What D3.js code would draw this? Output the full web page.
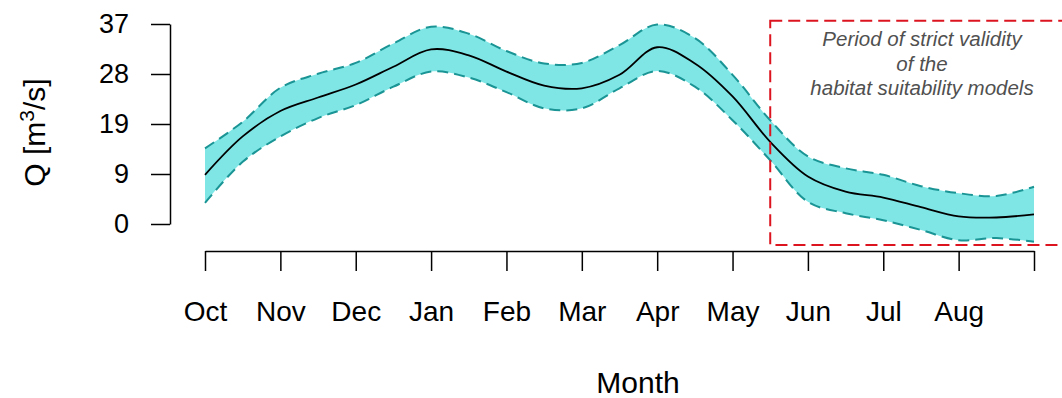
<!DOCTYPE html>
<html>
<head>
<meta charset="utf-8">
<script src="https://cdn.jsdelivr.net/npm/d3@7"></script>
<style>
  html, body { margin: 0; padding: 0; background: #fff; }
  svg { display: block; font-family: "Liberation Sans", Arial, sans-serif; }
</style>
</head>
<body>
<svg id="chart" width="1062" height="398"></svg>
<script>
// Time in months since 1 October, sampled every half month
const months = d3.range(0, 11.01, 0.5);

// Mean discharge and the upper / lower bounds of the band (m3/s)
const meanQ  = [9.1, 16.2, 20.9, 23.4, 25.8, 29.1, 32.3, 31.2, 28.2, 25.6, 25.1, 27.6,
                32.7, 29.7, 23.6, 15.2, 8.8, 6.0, 4.9, 3.1, 1.4, 1.2, 1.8];
const upperQ = [14.0, 18.9, 25.2, 27.8, 29.8, 33.4, 36.5, 35.2, 32.0, 29.7, 29.8, 33.1,
                36.9, 34.4, 27.6, 19.2, 12.5, 10.3, 9.1, 7.0, 5.7, 5.2, 6.9];
const lowerQ = [3.9, 11.5, 16.2, 19.6, 22.0, 25.4, 28.2, 27.1, 24.4, 21.4, 21.4, 25.1,
                28.3, 25.4, 19.2, 11.8, 4.1, 2.0, 0.7, -1.1, -3.0, -2.6, -3.3];

// Axis ticks
const xTickValues = d3.range(0, 12);
const xTickLabels = ["Oct", "Nov", "Dec", "Jan", "Feb", "Mar", "Apr", "May", "Jun", "Jul", "Aug", ""];
const yTickValues = [0, 9.25, 18.5, 27.75, 37];
const yTickLabels = ["0", "9", "19", "28", "37"];

// Window of strict validity (months, Q range)
const validityMonths = [7.5, 11.5];
const validityQ = [-3.9, 37.6];
const validityText = ["Period of strict validity", "of the", "habitat suitability models"];

const svg = d3.select("#chart");

const x = d3.scaleLinear().domain([0, 11]).range([205, 1034]);
const y = d3.scaleLinear().domain([0, 37]).range([224, 24]);

const rows = months.map((m, i) => ({ m, mean: meanQ[i], hi: upperQ[i], lo: lowerQ[i] }));
const curve = d3.curveCatmullRom.alpha(0.5);

// Confidence band
svg.append("path")
  .datum(rows)
  .attr("fill", "#7fe5e5")
  .attr("d", d3.area().curve(curve).x(d => x(d.m)).y0(d => y(d.lo)).y1(d => y(d.hi)));

// Dashed band edges
["hi", "lo"].forEach(k => {
  svg.append("path")
    .datum(rows)
    .attr("fill", "none")
    .attr("stroke", "#1a9494")
    .attr("stroke-width", 2)
    .attr("stroke-dasharray", "11,6")
    .attr("d", d3.line().curve(curve).x(d => x(d.m)).y(d => y(d[k])));
});

// Mean line
svg.append("path")
  .datum(rows)
  .attr("fill", "none")
  .attr("stroke", "#000")
  .attr("stroke-width", 1.8)
  .attr("d", d3.line().curve(curve).x(d => x(d.m)).y(d => y(d.mean)));

// Validity window
svg.append("rect")
  .attr("x", x(validityMonths[0]))
  .attr("y", y(validityQ[1]))
  .attr("width", x(validityMonths[1]) - x(validityMonths[0]))
  .attr("height", y(validityQ[0]) - y(validityQ[1]))
  .attr("fill", "none")
  .attr("stroke", "#dc1420")
  .attr("stroke-width", 2)
  .attr("stroke-dasharray", "12,6");

svg.append("g")
  .selectAll("text")
  .data(validityText)
  .join("text")
  .attr("x", 922)
  .attr("y", (d, i) => 46 + i * 24.5)
  .attr("text-anchor", "middle")
  .attr("font-style", "italic")
  .attr("font-size", 20.5)
  .attr("fill", "#505050")
  .text(d => d);

// Y axis
const yAxis = svg.append("g")
  .attr("transform", "translate(170,0)")
  .call(d3.axisLeft(y)
    .tickValues(yTickValues)
    .tickFormat((d, i) => yTickLabels[i])
    .tickSize(19)
    .tickSizeOuter(0)
    .tickPadding(22));
yAxis.selectAll("text").attr("font-size", 27).attr("fill", "#000").attr("font-family", "Liberation Sans, Arial, sans-serif");
yAxis.selectAll("path, line").attr("stroke", "#000").attr("stroke-width", 1.5);

// X axis
const xAxis = svg.append("g")
  .attr("transform", "translate(0,251)")
  .call(d3.axisBottom(x)
    .tickValues(xTickValues)
    .tickFormat((d, i) => xTickLabels[i])
    .tickSize(20)
    .tickSizeOuter(0)
    .tickPadding(30));
xAxis.selectAll("text").attr("font-size", 28).attr("fill", "#000").attr("font-family", "Liberation Sans, Arial, sans-serif");
xAxis.selectAll("path, line").attr("stroke", "#000").attr("stroke-width", 1.5);

// Axis titles
svg.append("text")
  .attr("x", 638)
  .attr("y", 393)
  .attr("text-anchor", "middle")
  .attr("font-size", 30)
  .text("Month");

const yTitle = svg.append("text")
  .attr("transform", "translate(45,132.5) rotate(-90)")
  .attr("text-anchor", "middle")
  .attr("font-size", 30);
yTitle.append("tspan").text("Q [m");
yTitle.append("tspan").attr("dy", -11).attr("font-size", 21).text("3");
yTitle.append("tspan").attr("dy", 11).text("/s]");
</script>
</body>
</html>
